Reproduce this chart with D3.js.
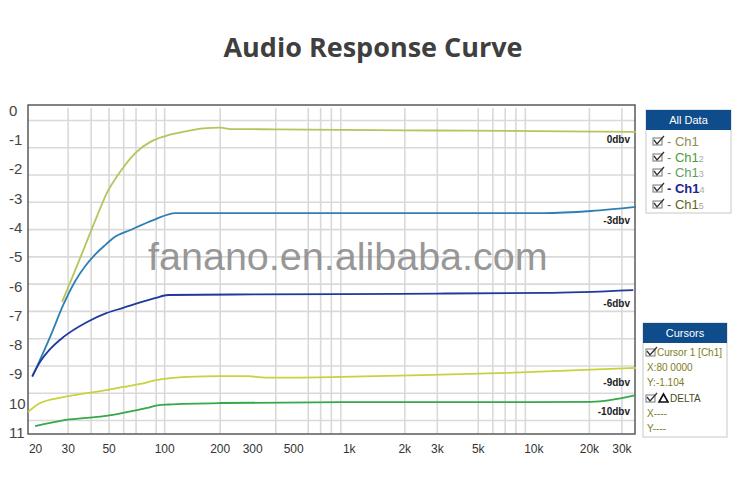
<!DOCTYPE html>
<html><head><meta charset="utf-8">
<script src="https://cdn.jsdelivr.net/npm/d3@7"></script>
<style>
html,body{margin:0;padding:0;background:#fff;}
svg{display:block;}
</style></head>
<body>
<svg id="chart" width="750" height="484"></svg>
<script>
// ---------- data ----------
const title = "Audio Response Curve";
const watermark = "fanano.en.alibaba.com";
const yTickValues = [0,-1,-2,-3,-4,-5,-6,-7,-8,-9,-10,-11];
const yTickLabels = ["0","-1","-2","-3","-4","-5","-6","-7","-8","-9","10","11"];
const xTickValues = [20,30,50,100,200,300,500,1000,2000,3000,5000,10000,20000,30000];
const xTickLabels = ["20","30","50","100","200","300","500","1k","2k","3k","5k","10k","20k","30k"];
const xGridValues = [30,40,50,60,70,90,100,200,400,600,700,800,900,2000,3000,5000,6000,7000,8000,9000,20000,30000];

const seriesNames = ["0dbv","-3dbv","-6dbv","-9dbv","-10dbv"];
const ch1Freq = [28,33,38.8,45.1,48.6,55.8,69.8,84.2,101.6,133.7,163,202,229,400,900,3000,10000,36000];
const ch1Db   = [-6.56,-5.47,-4.37,-3.35,-2.87,-2.25,-1.47,-1.09,-0.89,-0.72,-0.63,-0.6,-0.65,-0.66,-0.68,-0.7,-0.72,-0.75];
const ch2Freq = [19.3,24.5,28.4,33,37.4,42.5,48.6,53,65.6,87.4,115,300,1000,3000,11400,20600,36000];
const ch2Db   = [-9.12,-7.65,-6.66,-5.84,-5.33,-4.92,-4.58,-4.37,-4.1,-3.76,-3.52,-3.52,-3.52,-3.52,-3.52,-3.45,-3.31];
const ch3Freq = [19.3,21.3,24.1,28.4,38.3,48.6,60,90,105,300,900,3000,11400,34800];
const ch3Db   = [-9.09,-8.6,-8.17,-7.76,-7.24,-6.94,-6.76,-6.42,-6.32,-6.3,-6.29,-6.27,-6.25,-6.15];
const ch4Freq = [18.3,21.3,28.4,38.3,48.6,60.1,74.3,91.9,105.4,134,202,283,354,484,906,2500,6440,36000];
const ch4Db   = [-10.32,-10.01,-9.81,-9.67,-9.57,-9.46,-9.36,-9.22,-9.17,-9.12,-9.09,-9.09,-9.14,-9.14,-9.12,-9.06,-8.99,-8.81];
const ch5Freq = [20,28.4,38.3,48.6,60,81,92,105,202,906,3000,10000,20600,36000];
const ch5Db   = [-10.8,-10.6,-10.52,-10.45,-10.35,-10.18,-10.09,-10.06,-10.01,-9.98,-9.98,-9.98,-9.97,-9.74];
const seriesColors = ["#b7c45c","#2f7fb6","#1f399c","#c7d23e","#34a84a"];

const legendTitle = "All Data";
const legendItems = ["Ch1","Ch1","Ch1","Ch1","Ch1"];
const legendSubs = ["","2","3","4","5"];
const legendColors = ["#8d8d4c","#4f9b3c","#5f9f5c","#22238f","#63631c"];
const cursorTitle = "Cursors";
const cursorLines = ["Cursor 1 [Ch1]","X:80 0000","Y:-1.104","DELTA","X----","Y----"];

// ---------- layout ----------
const svg = d3.select("#chart");
const L = 28, R = 635, T = 105, B = 434;

const x = d3.scaleLog().domain([18.3, 36000]).range([L, R + 1]);
const y = d3.scaleLinear().domain([0, -11]).range([110, 432]);      // label / data scale
const yGrid = d3.scaleLinear().domain([0, -11]).range([120, 420]);  // drawn grid rows

// title
svg.append("text").attr("x", 373).attr("y", 57).attr("text-anchor", "middle")
  .style("font-family", "'Open Sans', Lato, sans-serif").style("font-weight", 700)
  .style("font-size", "27px").attr("fill", "#3f3f3f").text(title);

// grid
const gridG = svg.append("g");
gridG.append("g").attr("transform", `translate(${L},0)`)
  .call(d3.axisLeft(yGrid).tickValues(yTickValues).tickSize(-(R - L)).tickFormat(""))
  .call(g => g.select(".domain").remove())
  .call(g => g.selectAll("line").attr("stroke", "#d9d9d9").attr("stroke-width", 1.6));
gridG.append("g").attr("transform", `translate(0,${B})`)
  .call(d3.axisBottom(x).tickValues(xGridValues).tickSize(-(B - T - 3)).tickFormat(""))
  .call(g => g.select(".domain").remove())
  .call(g => g.selectAll("line").attr("stroke", "#d9d9d9").attr("stroke-width", 1.6));

// watermark
svg.append("text").attr("x", 148).attr("y", 270)
  .style("font-family", "'Liberation Sans', Arial, sans-serif").style("font-size", "39.5px")
  .attr("fill", "#8a8a8a").attr("fill-opacity", 0.9).text(watermark);

// plot frame
svg.append("rect").attr("x", L).attr("y", T).attr("width", R - L).attr("height", B - T)
  .attr("fill", "none").attr("stroke", "#5a5a5a").attr("stroke-width", 1.5);

// y axis labels
svg.append("g").attr("transform", `translate(${L},0)`)
  .call(d3.axisLeft(y).tickValues(yTickValues).tickSize(0).tickFormat((d, i) => yTickLabels[i]))
  .call(g => g.select(".domain").remove())
  .call(g => g.selectAll("text").attr("x", 9 - L).attr("text-anchor", "start")
     .attr("dy", "0.36em").attr("fill", "#444")
     .style("font-family", "'Liberation Sans', Arial, sans-serif").style("font-size", "15px"));

// x axis labels
svg.append("g").attr("transform", `translate(0,${B})`)
  .call(d3.axisBottom(x).tickValues(xTickValues).tickSize(0).tickFormat((d, i) => xTickLabels[i]))
  .call(g => g.select(".domain").remove())
  .call(g => g.selectAll("text").attr("y", 19).attr("dy", "0").attr("fill", "#333")
     .style("font-family", "'Liberation Sans', Arial, sans-serif").style("font-size", "12px"));

// curves
const allFreq = [ch1Freq, ch2Freq, ch3Freq, ch4Freq, ch5Freq];
const allDb = [ch1Db, ch2Db, ch3Db, ch4Db, ch5Db];
const line = d3.line().x(d => x(d[0])).y(d => y(d[1])).curve(d3.curveMonotoneX);
allFreq.forEach((fs, i) => {
  const pts = fs.map((f, j) => [f, allDb[i][j]]);
  svg.append("path").datum(pts).attr("d", line).attr("fill", "none")
    .attr("stroke", seriesColors[i]).attr("stroke-width", 1.8);
});

// curve labels
const labelY = [139, 220, 303, 382, 411];
seriesNames.forEach((n, i) => {
  svg.append("text").attr("x", 630).attr("y", labelY[i] + 4).attr("text-anchor", "end")
    .style("font-family", "'Liberation Sans', Arial, sans-serif").style("font-weight", 700)
    .style("font-size", "10px").attr("fill", "#222").text(n);
});

// checkbox helper
function checkbox(g, cx, cy) {
  g.append("rect").attr("x", cx).attr("y", cy - 3).attr("width", 9).attr("height", 7)
    .attr("fill", "none").attr("stroke", "#777").attr("stroke-width", 1);
  g.append("path").attr("d", `M${cx + 1},${cy - 1} L${cx + 4},${cy + 3} L${cx + 11},${cy - 5}`)
    .attr("fill", "none").attr("stroke", "#333").attr("stroke-width", 1.3);
}

// legend box
const lg = svg.append("g");
lg.append("rect").attr("x", 646).attr("y", 110).attr("width", 85).attr("height", 103)
  .attr("fill", "#fff").attr("stroke", "#c8c8c8");
lg.append("rect").attr("x", 646).attr("y", 110).attr("width", 85).attr("height", 20).attr("fill", "#0f4c8c");
lg.append("text").attr("x", 688.5).attr("y", 124).attr("text-anchor", "middle").attr("fill", "#fff")
  .style("font-family", "'Liberation Sans', Arial, sans-serif").style("font-size", "11px").text(legendTitle);
const rowY = [141, 157, 172, 188, 204];
legendItems.forEach((t, i) => {
  checkbox(lg, 653, rowY[i]);
  const tx = lg.append("text").attr("x", 667).attr("y", rowY[i] + 5)
    .style("font-family", "'Liberation Sans', Arial, sans-serif").style("font-size", "13px")
    .style("font-weight", i === 3 ? 700 : 400).attr("fill", legendColors[i]);
  tx.append("tspan").text("- " + t);
  tx.append("tspan").style("font-size", "9px").style("font-weight", 400).attr("fill", "#aaa").text(legendSubs[i]);
});

// cursors box
const cg = svg.append("g");
cg.append("rect").attr("x", 643).attr("y", 323).attr("width", 84).attr("height", 114)
  .attr("fill", "#fff").attr("stroke", "#c8c8c8");
cg.append("rect").attr("x", 643).attr("y", 323).attr("width", 84).attr("height", 20).attr("fill", "#0f4c8c");
cg.append("text").attr("x", 685).attr("y", 337).attr("text-anchor", "middle").attr("fill", "#fff")
  .style("font-family", "'Liberation Sans', Arial, sans-serif").style("font-size", "11px").text(cursorTitle);
const cRowY = [352, 367, 382, 398, 413, 428];
cursorLines.forEach((t, i) => {
  let tx = 647;
  if (i === 0) { checkbox(cg, 646, cRowY[i]); tx = 657; }
  if (i === 3) {
    checkbox(cg, 646, cRowY[i]);
    cg.append("path").attr("d", `M${659},${cRowY[i] + 4} L${663.5},${cRowY[i] - 4} L${668},${cRowY[i] + 4} Z`)
      .attr("fill", "none").attr("stroke", "#111").attr("stroke-width", 1.6);
    tx = 670;
  }
  cg.append("text").attr("x", tx).attr("y", cRowY[i] + 4)
    .style("font-family", "'Liberation Sans', Arial, sans-serif").style("font-size", "10px")
    .attr("fill", i === 3 ? "#4a4a1a" : "#7d7d22").text(t);
});
</script>
</body></html>
